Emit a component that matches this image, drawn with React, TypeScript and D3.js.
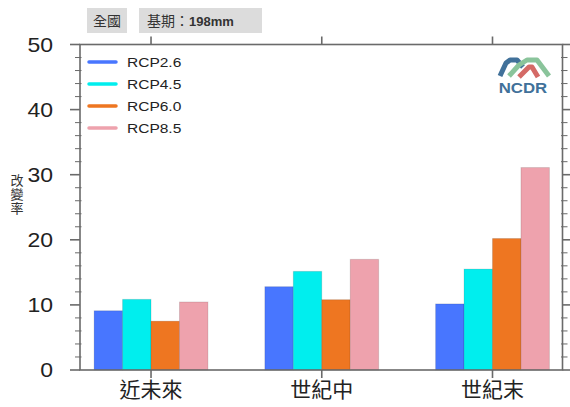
import React from "react";
import * as d3 from "d3";

const categories = ["近未來", "世紀中", "世紀末"];
const seriesNames = ["RCP2.6", "RCP4.5", "RCP6.0", "RCP8.5"];
const rcp26 = [9.1, 12.8, 10.15];
const rcp45 = [10.85, 15.15, 15.5];
const rcp60 = [7.5, 10.8, 20.2];
const rcp85 = [10.45, 17.0, 31.1];
const seriesValues = [rcp26, rcp45, rcp60, rcp85];
const colors = ["#4876ff", "#00eeee", "#ee7621", "#eea2ad"];
const yMajorTicks = [0, 10, 20, 30, 40, 50];
const yMinorTicks = d3.range(0, 51, 2);

const W = 570;
const H = 407;
const plot = { left: 80, right: 562.5, top: 44.5, bottom: 370 };

export default function App() {
  const x = d3.scaleLinear().domain([0.584, 3.41]).range([plot.left, plot.right]);
  const y = d3.scaleLinear().domain([0, 50]).range([plot.bottom, plot.top]);
  const barW = (x(2) - x(1)) / 6;
  const axisColor = "#6a6a6a";
  const sans = "'Liberation Sans', Arial, Helvetica, sans-serif";
  const cjk = "'Noto Sans CJK TC', 'Noto Sans CJK SC', sans-serif";

  return (
    <svg width={W} height={H} style={{ position: "absolute", left: 0, top: 0 }}>
      <rect width={W} height={H} fill="#fff" />
      {/* title boxes */}
      <rect x={87} y={8} width={40} height={25} fill="#dcdcdc" />
      <text x={107} y={25.5} textAnchor="middle" fontSize={14} fontFamily={cjk} fill="#333">全國</text>
      <rect x={139} y={8} width={123} height={25} fill="#dcdcdc" />
      <text x={147} y={25.5} fontSize={14} fontFamily={cjk} fill="#333">
        基期：<tspan fontFamily={sans} fontWeight="bold" fontSize={13}>198mm</tspan>
      </text>

      {/* bars */}
      {categories.map((c, ci) =>
        seriesValues.map((vals, si) => {
          const x0 = x(ci + 1) - 2 * barW + si * barW;
          return (
            <rect
              key={c + si}
              x={x0}
              y={y(vals[ci])}
              width={barW}
              height={y(0) - y(vals[ci])}
              fill={colors[si]}
              stroke="rgba(0,0,0,0.12)"
              strokeWidth={1}
            />
          );
        })
      )}

      {/* frame */}
      <rect
        x={plot.left}
        y={plot.top}
        width={plot.right - plot.left}
        height={plot.bottom - plot.top}
        fill="none"
        stroke={axisColor}
        strokeWidth={1.6}
      />
      {/* y ticks */}
      {yMinorTicks.filter((t) => t % 10 !== 0).map((t) => (
        <g key={"mn" + t}>
          <line x1={plot.left - 5} x2={plot.left + 1.5} y1={y(t)} y2={y(t)} stroke={axisColor} strokeWidth={1} />
          <line x1={plot.right - 1.5} x2={plot.right + 5} y1={y(t)} y2={y(t)} stroke={axisColor} strokeWidth={1} />
        </g>
      ))}
      {yMajorTicks.map((t) => (
        <g key={"mj" + t}>
          <line x1={plot.left - 10} x2={plot.left} y1={y(t)} y2={y(t)} stroke={axisColor} strokeWidth={1.6} />
          <line x1={plot.right} x2={plot.right + 10} y1={y(t)} y2={y(t)} stroke={axisColor} strokeWidth={1.6} />
          <text
            x={53}
            y={y(t)}
            dy="0.36em"
            textAnchor="end"
            fontSize={20}
            fontFamily={sans}
            fill="#222"
            transform={`translate(53,0) scale(1.15,1) translate(-53,0)`}
          >
            {t}
          </text>
        </g>
      ))}
      {/* x ticks */}
      {categories.map((c, ci) => (
        <g key={"xt" + c}>
          <line x1={x(ci + 1)} x2={x(ci + 1)} y1={plot.bottom} y2={plot.bottom + 8} stroke={axisColor} strokeWidth={1.6} />
          <line x1={x(ci + 1)} x2={x(ci + 1)} y1={plot.top} y2={plot.top - 8} stroke={axisColor} strokeWidth={1.6} />
          <text x={x(ci + 1)} y={397} textAnchor="middle" fontSize={21} fontFamily={cjk} fill="#222">
            {c}
          </text>
        </g>
      ))}

      {/* y label */}
      <text
        x={17}
        y={174}
        fontSize={13}
        fontFamily={cjk}
        fill="#333"
        letterSpacing={1}
        style={{ writingMode: "vertical-rl" } as React.CSSProperties}
      >
        改變率
      </text>

      {/* legend */}
      {seriesNames.map((n, i) => (
        <g key={n}>
          <line x1={89} x2={116} y1={62 + i * 22} y2={62 + i * 22} stroke={colors[i]} strokeWidth={3.5} strokeLinecap="round" />
          <text
            x={127}
            y={62 + i * 22}
            dy="0.36em"
            fontSize={13.5}
            fontFamily={sans}
            fill="#222"
            transform={`translate(127,0) scale(1.15,1) translate(-127,0)`}
          >
            {n}
          </text>
        </g>
      ))}

      {/* NCDR logo */}
      <g>
        <polyline points="500,76 506,63 510,60 517,60 523,67" fill="none" stroke="#41719a" strokeWidth={5} strokeLinejoin="round" />
        <polyline points="509,76 519,65 527,60 537,60 549,76" fill="none" stroke="#8ac49b" strokeWidth={5} strokeLinejoin="round" />
        <polyline points="519,77 529,67 532,67 538,77" fill="none" stroke="#d46a66" strokeWidth={5} strokeLinejoin="round" />
        <text
          x={523}
          y={93.5}
          textAnchor="middle"
          fontSize={15}
          fontWeight="bold"
          fontFamily={sans}
          fill="#41719a"
          transform={`translate(523,0) scale(1.12,1) translate(-523,0)`}
        >
          NCDR
        </text>
      </g>
    </svg>
  );
}
